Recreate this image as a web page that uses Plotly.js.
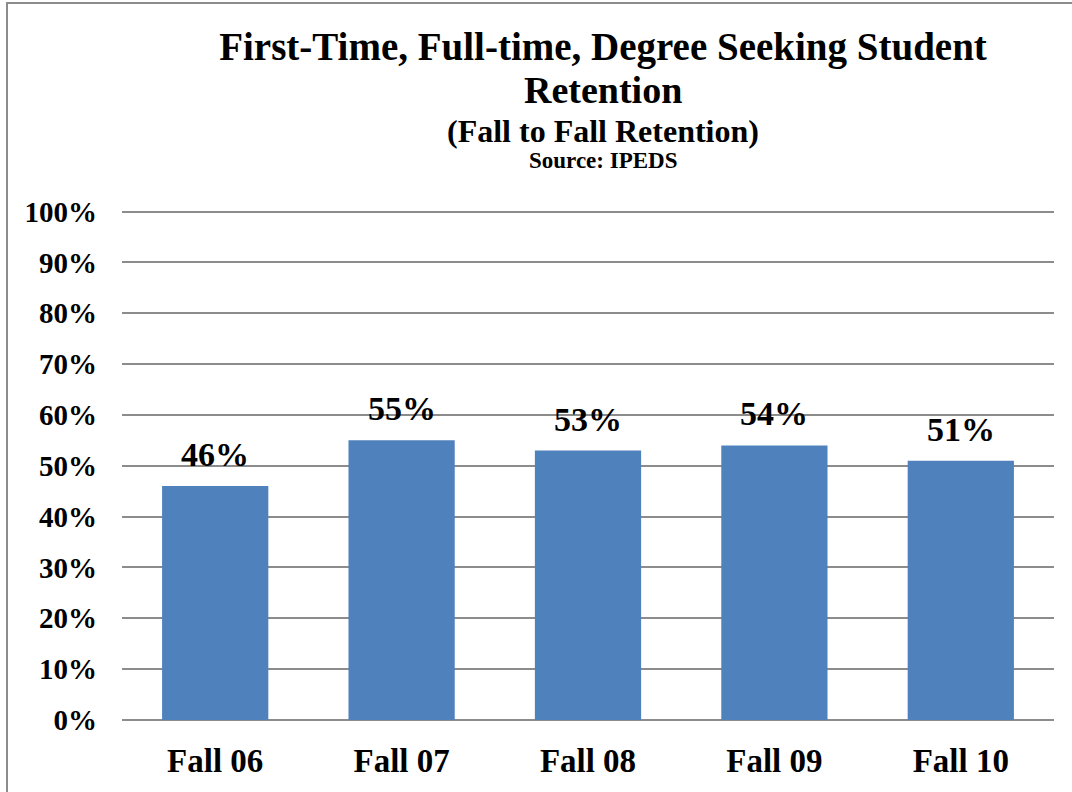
<!DOCTYPE html>
<html>
<head>
<meta charset="utf-8">
<script src="https://cdn.plot.ly/plotly-3.0.1.min.js"></script>
<style>html,body{margin:0;padding:0;background:#fff;}#chart{width:1072px;height:792px;}</style>
</head>
<body>
<div id="chart"></div>
<script>
const categories = ["Fall 06", "Fall 07", "Fall 08", "Fall 09", "Fall 10"];
const retention = [0.46, 0.55, 0.53, 0.54, 0.51];
const labels = ["46%", "55%", "53%", "54%", "51%"];
const titleLine1 = "First-Time, Full-time, Degree Seeking Student";
const titleLine2 = "Retention";
const subtitleText = "(Fall to Fall Retention)";
const sourceText = "Source: IPEDS";

const W = 1072, H = 792;
const L = 122, R = 18, T = 210, B = 72;
const pw = W - L - R, ph = H - T - B;
const serif = "Liberation Serif, DejaVu Serif, serif";
const cx = (603 - L) / pw;
const py = (pix) => (H - B - pix) / ph;

const annotations = categories.map((c, i) => ({
  x: c, y: retention[i], xref: 'x', yref: 'y',
  text: labels[i], showarrow: false, yanchor: 'bottom', yshift: 11,
  font: {family: serif, size: 34, color: '#000', weight: 'bold'}
}));
[[titleLine2, 90, 38], [subtitleText, 131, 32], [sourceText, 161, 23]].forEach(([t, y, s]) => {
  annotations.push({
    xref: 'paper', yref: 'paper', x: cx, y: py(y),
    text: '<b>' + t + '</b>', showarrow: false, xanchor: 'center', yanchor: 'middle',
    font: {family: serif, size: s, color: '#000'}
  });
});

const trace = {
  type: 'bar', x: categories, y: retention,
  marker: {color: '#4F81BD'},
  hoverinfo: 'none'
};

const layout = {
  width: W, height: H,
  margin: {l: L, r: R, t: T, b: B, pad: 0},
  paper_bgcolor: '#fff', plot_bgcolor: '#fff',
  bargap: 0.43,
  showlegend: false,
  title: {
    text: '<b>' + titleLine1 + '</b>',
    font: {family: serif, size: 39, color: '#000'},
    x: 603 / W, xanchor: 'center',
    y: 1 - 46 / H, yanchor: 'middle', yref: 'container'
  },
  xaxis: {
    type: 'category', showgrid: false, ticks: '', showline: false, zeroline: false,
    tickfont: {family: serif, size: 33, color: '#000', weight: 'bold'},
    ticklabelstandoff: 18
  },
  yaxis: {
    range: [0, 1.003], tickvals: [0,0.1,0.2,0.3,0.4,0.5,0.6,0.7,0.8,0.9,1], tickformat: '.0%',
    showgrid: true, gridcolor: '#8c8c8c', gridwidth: 2,
    zeroline: true, zerolinecolor: '#8c8c8c', zerolinewidth: 2,
    showline: false, ticks: '',
    tickfont: {family: serif, size: 29, color: '#000', weight: 'bold'},
    ticklabelstandoff: 24
  },
  annotations: annotations,
  shapes: [{
    type: 'rect', xref: 'paper', yref: 'paper',
    x0: (7 - L) / pw, x1: (W + 10 - L) / pw,
    y0: py(H + 10), y1: py(3),
    line: {color: '#8c8c8c', width: 2}, layer: 'below'
  }]
};

Plotly.newPlot('chart', [trace], layout, {displayModeBar: false, staticPlot: true});
</script>
</body>
</html>
